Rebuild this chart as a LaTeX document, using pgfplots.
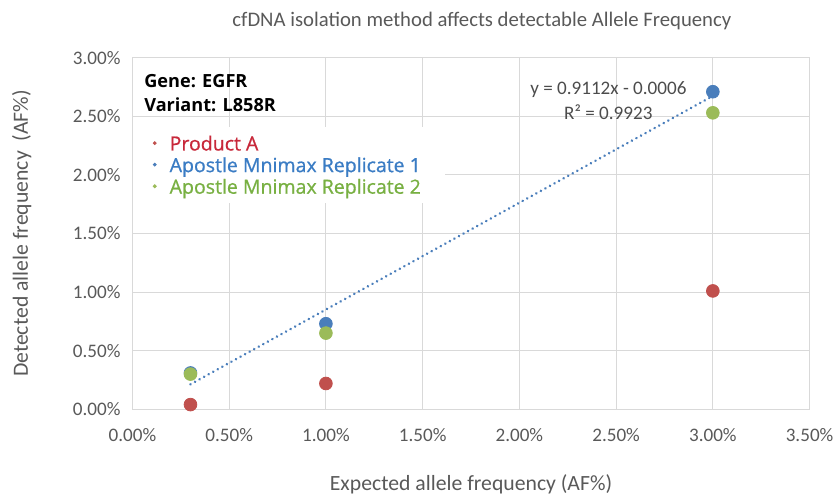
\documentclass[border=0pt]{standalone}
\usepackage{pgfplots}
\pgfplotsset{compat=1.18}
\usepackage{fontspec}
\setmainfont{Carlito}
\newfontfamily\lfont{Open Sans}
\newfontfamily\lfontm{Open Sans}[FakeBold=0.8]
\definecolor{cred}{HTML}{C0504D}
\definecolor{cblue}{HTML}{4A7EBB}
\definecolor{cgreen}{HTML}{9BBB59}
\definecolor{cgrid}{HTML}{D9D9D9}
\definecolor{ctext}{HTML}{595959}
\definecolor{lred}{HTML}{C8283A}
\definecolor{lblue}{HTML}{3A7CC4}
\definecolor{lgreen}{HTML}{78B042}
\begin{document}
\begin{tikzpicture}
\begin{axis}[
  scale only axis,
  width=340pt, height=176.5pt,
  xmin=0, xmax=3.5, ymin=0, ymax=3.0,
  xtick={0,0.5,...,3.5}, ytick={0,0.5,...,3.0},
  grid=major,
  grid style={cgrid, line width=0.55pt},
  axis line style={cgrid, line width=0.55pt},
  major tick length=0pt,
  /pgf/number format/assume math mode=true,
  xticklabel={\pgfmathprintnumber[fixed,fixed zerofill,precision=2]{\tick}\%},
  yticklabel={\pgfmathprintnumber[fixed,fixed zerofill,precision=2]{\tick}\%},
  ticklabel style={font=\fontsize{9.6}{11}\selectfont, text=ctext},
  xticklabel style={yshift=-6pt},
  yticklabel style={xshift=-2.5pt},
  xlabel={Expected allele frequency (AF\%)},
  ylabel={Detected allele frequency\ \ (AF\%)},
  label style={font=\fontsize{10.9}{12}\selectfont, text=ctext},
  xlabel style={yshift=-10pt},
  ylabel style={yshift=14pt},
  title={cfDNA isolation method affects detectable Allele Frequency},
  title style={font=\fontsize{10.4}{12}\selectfont, text=ctext, at={(rel axis cs:0.516,1)}, yshift=4.5pt},
  legend style={at={(rel axis cs:0,0.805)}, anchor=north west, fill=white, draw=none,
    font=\lfontm\fontsize{9.8}{11}\selectfont, row sep=-0.6pt, inner xsep=10pt, inner ysep=2.5pt,
    nodes={text depth=0pt}},
  legend cell align=left,
  legend image code/.code={\fill[#1] (0pt,0) circle (0.75pt); \path[draw=none,fill=none] (-1pt,0) -- (5.5pt,0);},
  clip=false,
]
\addplot[only marks, mark=*, mark size=3.2pt, cred, mark options={draw=cred, fill=cred}]
  coordinates {(0.3,0.04) (1.0,0.22) (3.0,1.01)};
\addlegendentry[text=lred]{Product A}
\addplot[only marks, mark=*, mark size=3.2pt, cblue, mark options={draw=cblue, fill=cblue}]
  coordinates {(0.3,0.31) (1.0,0.73) (3.0,2.71)};
\addlegendentry[text=lblue]{Apostle Mnimax Replicate 1}
\addplot[only marks, mark=*, mark size=3.2pt, cgreen, mark options={draw=cgreen, fill=cgreen}]
  coordinates {(0.3,0.30) (1.0,0.65) (3.0,2.53)};
\addlegendentry[text=lgreen]{Apostle Mnimax Replicate 2}
\addplot[cblue, line width=1.4pt, dash pattern=on 0.01pt off 2.6pt, line cap=round, forget plot]
  coordinates {(0.3,0.213) (3.0,2.674)};
\node[anchor=north west, align=left, font=\lfont\bfseries\fontsize{9.1}{12.2}\selectfont, inner sep=0pt]
  at (rel axis cs:0.017,0.955) {Gene: EGFR\\Variant: L858R};
\node[align=center, font=\fontsize{9.6}{12.4}\selectfont, text=ctext!85!black, inner sep=0pt]
  at (axis cs:2.46,2.635) {y = 0.9112x - 0.0006\\R² = 0.9923};
\end{axis}
\useasboundingbox (-66.5pt,-41pt) rectangle (353.5pt,205.5pt);
\end{tikzpicture}
\end{document}
